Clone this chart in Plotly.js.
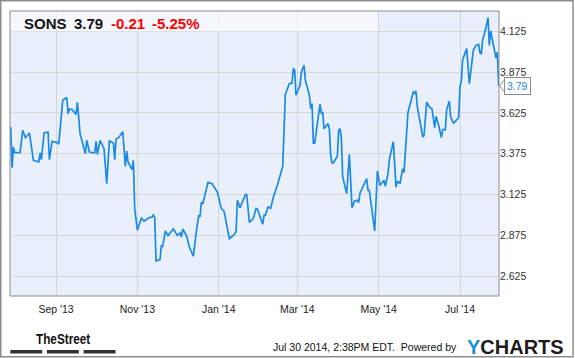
<!DOCTYPE html>
<html><head><meta charset="utf-8">
<script src="https://cdn.plot.ly/plotly-3.0.1.min.js"></script>
<style>
html,body{margin:0;padding:0;background:#fff;}
#wrap{position:relative;width:575px;height:358px;}
#chart{width:575px;height:358px;}
#street{position:absolute;left:35.6px;top:331px;font-family:'Liberation Sans',Arial,sans-serif;font-weight:bold;font-size:15px;line-height:15px;color:#111;white-space:nowrap;transform:scaleX(0.783);transform-origin:0 0;}
</style>
</head><body><div id="wrap"><div id="chart"></div><div id="street"></div></div>
<script>
const ticker = 'SONS';
const lastPriceText = '3.79';
const changeText = '-0.21';
const changePctText = '-5.25%';
const stampText = 'Jul 30 2014, 2:38PM EDT.&nbsp; Powered by';
const logoText = 'TheStreet';

const dates = [
'2013-07-29','2013-07-30','2013-07-31','2013-08-01','2013-08-05','2013-08-07','2013-08-09','2013-08-12','2013-08-15','2013-08-19',
'2013-08-20','2013-08-21','2013-08-23','2013-08-26','2013-08-27','2013-08-29','2013-09-02','2013-09-03','2013-09-06','2013-09-09',
'2013-09-10','2013-09-11','2013-09-13','2013-09-16','2013-09-17','2013-09-19','2013-09-23','2013-09-24','2013-09-26','2013-09-30',
'2013-10-01','2013-10-02','2013-10-04','2013-10-07','2013-10-09','2013-10-11','2013-10-14','2013-10-15','2013-10-16','2013-10-18',
'2013-10-21','2013-10-23','2013-10-24','2013-10-25','2013-10-28','2013-10-29','2013-10-30','2013-11-01','2013-11-04','2013-11-06',
'2013-11-10','2013-11-12','2013-11-13','2013-11-14','2013-11-15','2013-11-18','2013-11-19','2013-11-20','2013-11-22','2013-11-24',
'2013-11-28','2013-12-01','2013-12-03','2013-12-04','2013-12-05','2013-12-08','2013-12-10','2013-12-13','2013-12-15','2013-12-17',
'2013-12-18','2013-12-19','2013-12-20','2013-12-24','2013-12-27','2013-12-30','2013-12-31','2014-01-03','2014-01-05','2014-01-09',
'2014-01-12','2014-01-14','2014-01-15','2014-01-17','2014-01-21','2014-01-22','2014-01-24','2014-01-27','2014-01-29','2014-01-30',
'2014-02-03','2014-02-04','2014-02-05','2014-02-07','2014-02-09','2014-02-11','2014-02-14','2014-02-18','2014-02-20','2014-02-23',
'2014-02-25','2014-02-26','2014-02-27','2014-02-28','2014-03-03','2014-03-04','2014-03-06','2014-03-07','2014-03-10','2014-03-11',
'2014-03-12','2014-03-13','2014-03-14','2014-03-18','2014-03-19','2014-03-20','2014-03-21','2014-03-24','2014-03-25','2014-03-26',
'2014-03-27','2014-03-28','2014-03-31','2014-04-01','2014-04-02','2014-04-03','2014-04-04','2014-04-07','2014-04-09','2014-04-11',
'2014-04-13','2014-04-15','2014-04-16','2014-04-17','2014-04-19','2014-04-22','2014-04-23','2014-04-24','2014-04-28','2014-04-30',
'2014-05-02','2014-05-05','2014-05-06','2014-05-08','2014-05-09','2014-05-12','2014-05-14','2014-05-15','2014-05-17','2014-05-19',
'2014-05-20','2014-05-23','2014-05-26','2014-05-27','2014-05-28','2014-05-29','2014-05-30','2014-06-03','2014-06-04','2014-06-06',
'2014-06-08','2014-06-10','2014-06-12','2014-06-13','2014-06-15','2014-06-17','2014-06-18','2014-06-20','2014-06-21','2014-06-23',
'2014-06-24','2014-06-26','2014-06-27','2014-06-30','2014-07-01','2014-07-02','2014-07-03','2014-07-06','2014-07-08','2014-07-11',
'2014-07-13','2014-07-15','2014-07-16','2014-07-17','2014-07-18','2014-07-20','2014-07-22','2014-07-23','2014-07-24','2014-07-26',
'2014-07-28','2014-07-29','2014-07-30'
];
const prices = [
3.538,3.289,3.416,3.381,3.381,3.518,3.473,3.502,3.334,3.324,
3.379,3.338,3.502,3.508,3.338,3.451,3.443,3.432,3.702,3.719,
3.620,3.649,3.645,3.616,3.690,3.498,3.375,3.457,3.385,3.379,
3.451,3.371,3.457,3.406,3.191,3.453,3.440,3.338,3.465,3.473,
3.510,3.297,3.391,3.324,3.277,3.334,3.038,2.905,2.980,2.962,
2.983,2.987,2.999,2.983,2.717,2.727,2.813,2.807,2.901,2.873,
2.913,2.874,2.889,2.864,2.913,2.868,2.803,2.746,2.885,2.997,
2.987,3.077,3.066,3.199,3.191,3.150,3.140,3.038,3.023,2.854,
2.874,2.895,3.089,3.044,3.124,3.124,2.954,2.979,3.038,3.036,
2.942,2.997,2.997,3.048,3.040,3.109,3.181,3.297,3.739,3.804,
3.808,3.898,3.886,3.733,3.794,3.875,3.917,3.825,3.733,3.651,
3.682,3.440,3.440,3.678,3.624,3.630,3.528,3.559,3.528,3.365,
3.318,3.318,3.359,3.518,3.528,3.473,3.232,3.130,3.371,3.044,
3.085,3.089,3.075,3.134,3.167,3.222,3.150,3.150,2.901,3.269,
3.181,3.212,3.175,3.253,3.340,3.448,3.170,3.207,3.191,3.283,
3.259,3.630,3.722,3.753,3.745,3.759,3.661,3.481,3.485,3.690,
3.661,3.649,3.535,3.604,3.549,3.473,3.522,3.522,3.645,3.698,
3.600,3.563,3.569,3.596,3.788,3.820,3.951,4.019,3.804,4.009,
4.039,4.045,3.992,3.988,4.074,4.131,4.209,4.039,4.127,4.050,
3.961,3.998,3.790
];

document.getElementById('street').textContent = logoText;

const lineBlue = '#1a8ae6';
const W = 575, H = 358;
const M = {l:10, r:76, t:11, b:62};
const PW = W - M.l - M.r, PH = H - M.t - M.b;
const px = v => (v - M.l) / PW;
const py = v => (H - M.b - v) / PH;

const lastDate = dates[dates.length - 1];
const lastPrice = prices[prices.length - 1];

const trace = {
  x: dates, y: prices, type: 'scatter', mode: 'lines',
  line: {color: lineBlue, width: 1.7}, hoverinfo: 'skip'
};

const baseFont = 'Liberation Sans, Arial, sans-serif';

const layout = {
  width: W, height: H, margin: M,
  paper_bgcolor: '#ffffff', plot_bgcolor: '#eaf0fb',
  showlegend: false,
  font: {family: baseFont, size: 10.5, color: '#222'},
  xaxis: {
    type: 'date', range: ['2013-07-28 10:48', '2014-07-30 06:00'],
    tickmode: 'linear', tick0: '2013-09-01', dtick: 'M2', tickformat: "%b '%y",
    showgrid: true, gridcolor: '#d6d6d6', gridwidth: 1, zeroline: false,
    showline: false, ticks: '', ticklabelstandoff: 5,
    tickfont: {size: 10.5, color: '#222'}, fixedrange: true
  },
  yaxis: {
    side: 'right', range: [2.5025, 4.2495],
    tickmode: 'linear', tick0: 2.625, dtick: 0.25, tickformat: '.3f',
    showgrid: true, gridcolor: '#d6d6d6', gridwidth: 1, zeroline: false,
    showline: false, ticks: '', tickfont: {size: 10.5, color: '#333'}, fixedrange: true
  },
  shapes: [
    {type:'rect', xref:'paper', yref:'paper', x0:0, x1:px(378), y0:py(31.5), y1:1,
     fillcolor:'rgba(255,255,255,0.55)', line:{width:0}, layer:'above'},
    {type:'rect', xref:'paper', yref:'paper', x0:0, x1:1, y0:0, y1:1,
     line:{color:'#8c8c8c', width:1}, layer:'above'},
    {type:'rect', xref:'paper', yref:'paper', x0:px(0.75), x1:px(573), y0:py(356.8), y1:py(0.75),
     line:{color:'#8c8c8c', width:1.5}, layer:'above'},
    {type:'path', xref:'paper', yref:'y', xsizemode:'pixel', ysizemode:'pixel',
     xanchor:1, yanchor:lastPrice, path:'M 5.5,-6 L 0.5,0 L 5.5,6 Z',
     fillcolor:'#ffffff', line:{color:'#8c8c8c', width:1}, layer:'above'},
    {type:'rect', xref:'paper', yref:'paper', x0:px(10.3), x1:px(42.2), y0:py(353.6), y1:py(350), fillcolor:'#333', line:{width:0}},
    {type:'rect', xref:'paper', yref:'paper', x0:px(46.9), x1:px(78.8), y0:py(353.6), y1:py(350), fillcolor:'#333', line:{width:0}},
    {type:'rect', xref:'paper', yref:'paper', x0:px(83.6), x1:px(115.5), y0:py(353.6), y1:py(350), fillcolor:'#333', line:{width:0}}
  ],
  annotations: [
    {xref:'paper', yref:'paper', x:px(21.7), y:py(23.8), xanchor:'left', yanchor:'middle', showarrow:false,
     text:'<b>' + ticker + '</b>', font:{family:baseFont, size:15, color:'#111'}},
    {xref:'paper', yref:'paper', x:px(71.5), y:py(23.8), xanchor:'left', yanchor:'middle', showarrow:false,
     text:'<b>' + lastPriceText + '</b>', font:{family:baseFont, size:15, color:'#111'}},
    {xref:'paper', yref:'paper', x:px(108.8), y:py(23.8), xanchor:'left', yanchor:'middle', showarrow:false,
     text:'<b>' + changeText + '</b>', font:{family:baseFont, size:15, color:'#ff0000'}},
    {xref:'paper', yref:'paper', x:px(149.8), y:py(23.8), xanchor:'left', yanchor:'middle', showarrow:false,
     text:'<b>' + changePctText + '</b>', font:{family:baseFont, size:15, color:'#ff0000'}},
    {xref:'x', yref:'y', x:lastDate, y:lastPrice, xanchor:'left', yanchor:'middle', xshift:5, showarrow:false,
     text:lastPriceText, font:{family:baseFont, size:10.5, color:lineBlue},
     bgcolor:'#ffffff', bordercolor:'#8c8c8c', borderwidth:1, borderpad:2},
    {xref:'paper', yref:'paper', x:px(459), y:py(347), xanchor:'right', yanchor:'middle', showarrow:false,
     text:stampText, font:{family:baseFont, size:10.5, color:'#111'}},
    {xref:'paper', yref:'paper', x:px(464.5), y:py(347.5), xanchor:'left', yanchor:'middle', showarrow:false,
     text:'<b><span style="color:#1a8fd8">Y</span>CHARTS</b>', font:{family:baseFont, size:20, color:'#1d1d1d'}}
  ]
};

Plotly.newPlot('chart', [trace], layout, {staticPlot: true, displayModeBar: false});
</script>
</body></html>
